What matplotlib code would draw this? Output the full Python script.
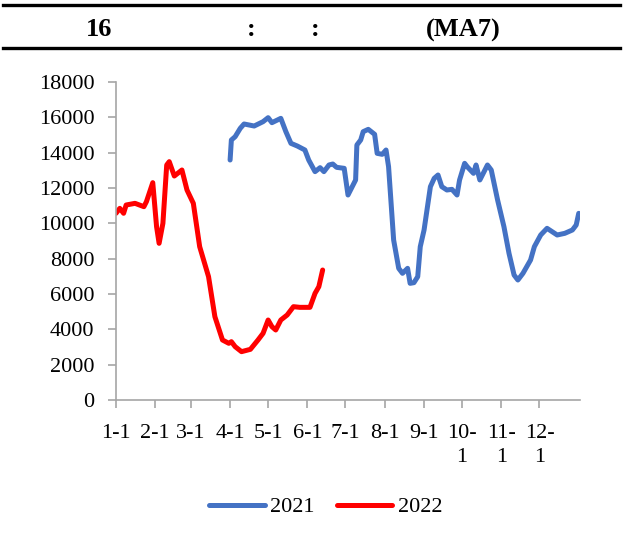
import matplotlib
matplotlib.use("Agg")
import matplotlib.pyplot as plt
from matplotlib.lines import Line2D

# day-of-year positions and MA7 values
days_2021 = [90, 91, 94, 98, 101, 109, 116, 120, 123, 130, 134, 138, 143, 149, 152,
             157, 161, 164, 168, 171, 174, 180, 183, 189, 190, 193, 195, 199, 204,
             206, 210, 213, 215, 219, 223, 226, 230, 232, 235, 238, 240, 243, 248,
             251, 254, 257, 261, 265, 269, 271, 275, 277, 282, 284, 287, 293, 296,
             301, 306, 310, 314, 317, 321, 327, 330, 335, 340, 348, 354, 360, 363, 365]
vals_2021 = [13585, 14717, 14906, 15377, 15623, 15509, 15755, 15981, 15698, 15943,
             15189, 14528, 14377, 14151, 13585, 12925, 13151, 12925, 13302, 13358,
             13170, 13113, 11604, 12453, 14434, 14717, 15189, 15321, 15038, 13962,
             13906, 14151, 13208, 9057, 7453, 7170, 7453, 6604, 6642, 6981, 8679,
             9623, 12075, 12547, 12736, 12075, 11887, 11924, 11604, 12453, 13396,
             13208, 12830, 13302, 12453, 13302, 13019, 11321, 9811, 8302, 7075,
             6792, 7170, 7925, 8679, 9340, 9717, 9340, 9434, 9623, 9906, 10566]

days_2022 = [0, 3, 6, 8, 15, 22, 24, 29, 32, 34, 37, 40, 42, 46, 52, 56, 61, 66, 73,
             78, 84, 89, 91, 94, 99, 106, 112, 116, 120, 123, 126, 130, 135, 140,
             145, 153, 157, 160, 163]
vals_2022 = [10568, 10850, 10568, 11038, 11132, 10943, 11226, 12302, 9811, 8868,
             10000, 13302, 13491, 12679, 13019, 11887, 11132, 8679, 6981, 4717,
             3396, 3208, 3302, 3019, 2736, 2868, 3396, 3774, 4528, 4151, 3962,
             4528, 4811, 5283, 5245, 5245, 6038, 6415, 7358]

month_starts = [0, 31, 59, 90, 120, 151, 181, 212, 243, 273, 304, 334]
month_labels = ["1-1", "2-1", "3-1", "4-1", "5-1", "6-1", "7-1", "8-1", "9-1",
                "10-\n1", "11-\n1", "12-\n1"]

plt.rcParams['font.family'] = ['Liberation Serif', 'DejaVu Serif']

fig = plt.figure(figsize=(6.24, 5.44), dpi=100)
ax = fig.add_axes([116 / 624, 1 - 400 / 544, 464 / 624, 318 / 544])

blue = "#4472C4"
red = "#FF0000"
ax.plot(days_2021, vals_2021, color=blue, lw=3.6, solid_capstyle="round",
        solid_joinstyle="round")
ax.plot(days_2022, vals_2022, color=red, lw=3.6, solid_capstyle="round",
        solid_joinstyle="round")

ax.set_xlim(0, 366)
ax.set_ylim(0, 18000)
ax.set_yticks(range(0, 18001, 2000))
ax.set_xticks(month_starts)
ax.set_xticklabels(month_labels, linespacing=1.3, va="top")

for s in ["top", "right"]:
    ax.spines[s].set_visible(False)
for s in ["left", "bottom"]:
    ax.spines[s].set_color("#A6A6A6")
    ax.spines[s].set_linewidth(1.2)
ax.tick_params(axis="both", colors="#A6A6A6", labelcolor="black", labelsize=16,
               length=5.5, width=1.2)
ax.tick_params(axis="x", pad=12)
ax.tick_params(axis="y", pad=10)

# title band
for yy in [5, 48]:
    fig.add_artist(Line2D([3 / 624, 620 / 624], [1 - yy / 544, 1 - yy / 544],
                          color="black", lw=2.4))
for txt, xx in [("16", 99), (":", 251), (":", 315), ("(MA7)", 463)]:
    fig.text(xx / 624, 1 - 30 / 544, txt, ha="center", va="center",
             fontsize=19, fontweight="bold")

handles = [Line2D([], [], color=blue, lw=3.6, solid_capstyle="round"),
           Line2D([], [], color=red, lw=3.6, solid_capstyle="round")]
fig.legend(handles, ["2021", "2022"], loc="center", bbox_to_anchor=(0.522, 1 - 507 / 544),
           ncol=2, frameon=False, fontsize=16, handlelength=2.5, handletextpad=0.25,
           columnspacing=1.0)

fig.savefig("out.png", dpi=100)
